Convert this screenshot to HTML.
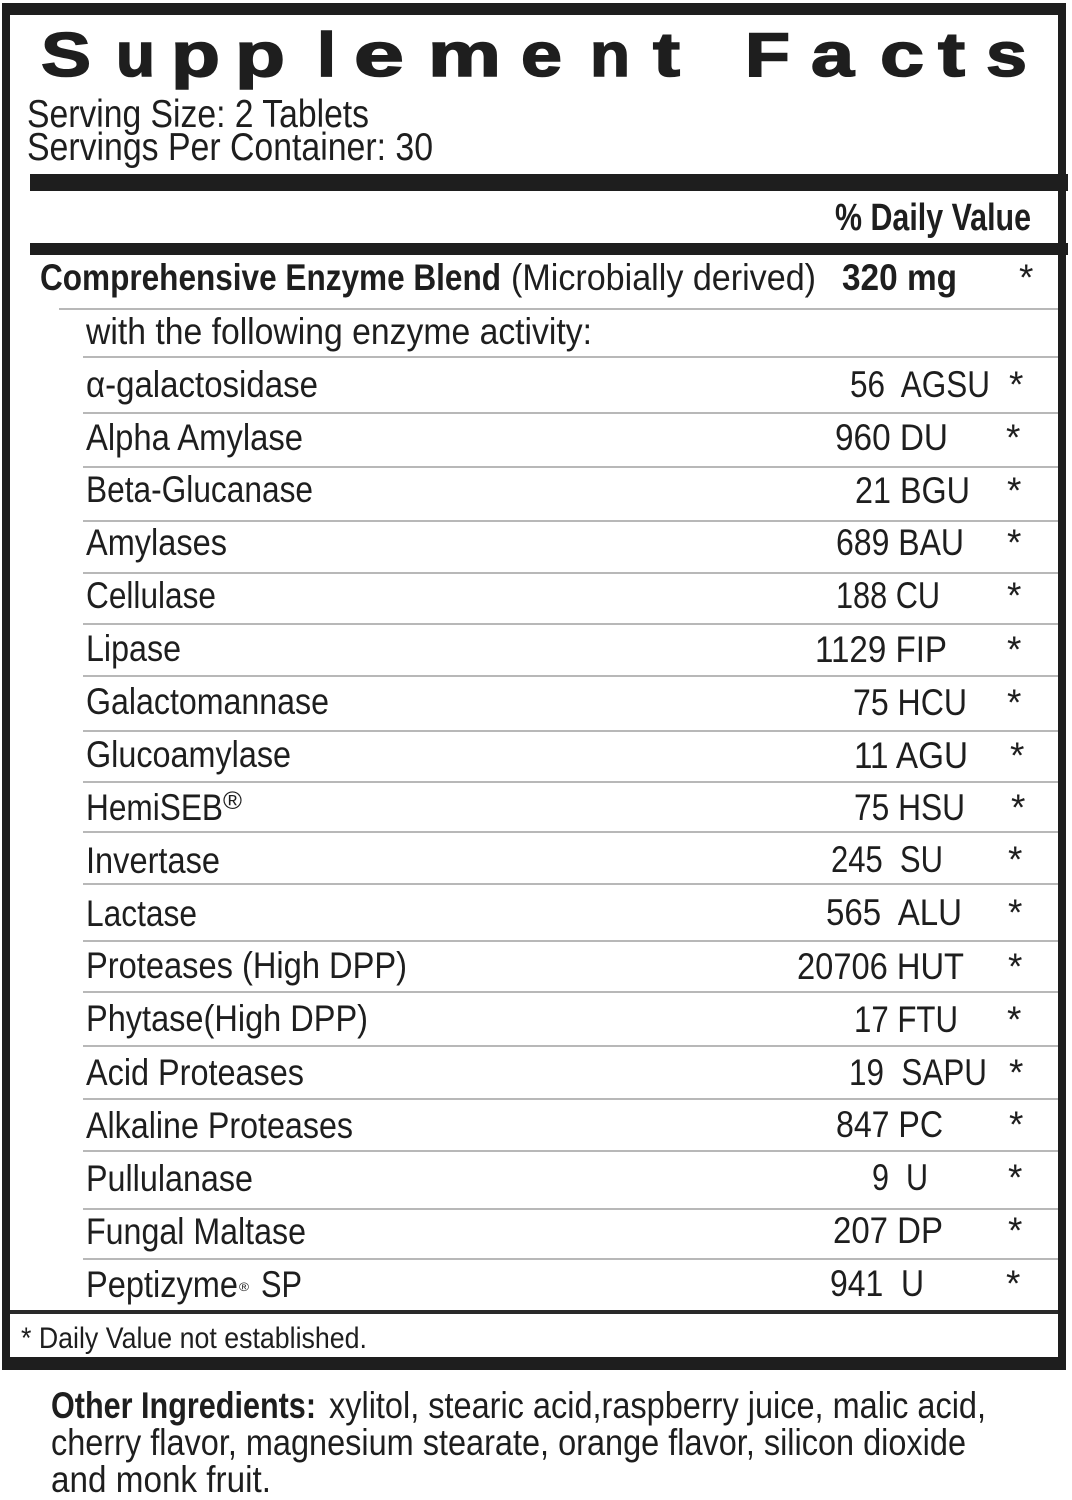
<!DOCTYPE html>
<html>
<head>
<meta charset="utf-8">
<style>
  html,body{margin:0;padding:0;background:#fff;}
  svg{display:block;}
  text{font-family:"Liberation Sans",Arial,sans-serif;fill:#1e1e1e;white-space:pre;}
  .b{font-weight:bold;}
  .r{font-size:37px;}
  .t{font-size:62px;font-weight:bold;stroke:#1e1e1e;stroke-width:1.6px;}
</style>
</head>
<body>
<svg width="1072" height="1500" viewBox="0 0 1072 1500" xmlns="http://www.w3.org/2000/svg">
  <rect x="0" y="0" width="1072" height="1500" fill="#fff"/>

  <!-- frame -->
  <rect x="2" y="3" width="1064" height="12" fill="#1e1e1e"/>
  <rect x="2" y="3" width="8" height="1367" fill="#1e1e1e"/>
  <rect x="1058" y="3" width="8" height="1367" fill="#1e1e1e"/>
  <rect x="2" y="1357" width="1064" height="13" fill="#1e1e1e"/>
  <rect x="30" y="174" width="1038" height="17" fill="#1e1e1e"/>
  <rect x="30" y="243" width="1038" height="12" fill="#1e1e1e"/>
  <rect x="10" y="1310" width="1048" height="4" fill="#2a2a2a"/>

  <!-- thin row lines -->
  <g stroke="#b8b8b8" stroke-width="2">
    <line x1="59" y1="309" x2="1058" y2="309"/>
    <line x1="83" y1="357" x2="1058" y2="357"/>
    <line x1="83" y1="413" x2="1058" y2="413"/>
    <line x1="83" y1="467" x2="1058" y2="467"/>
    <line x1="83" y1="521" x2="1058" y2="521"/>
    <line x1="83" y1="573" x2="1058" y2="573"/>
    <line x1="83" y1="624" x2="1058" y2="624"/>
    <line x1="83" y1="676" x2="1058" y2="676"/>
    <line x1="83" y1="731" x2="1058" y2="731"/>
    <line x1="83" y1="782" x2="1058" y2="782"/>
    <line x1="83" y1="832" x2="1058" y2="832"/>
    <line x1="83" y1="884" x2="1058" y2="884"/>
    <line x1="83" y1="941" x2="1058" y2="941"/>
    <line x1="83" y1="992" x2="1058" y2="992"/>
    <line x1="83" y1="1046" x2="1058" y2="1046"/>
    <line x1="83" y1="1099" x2="1058" y2="1099"/>
    <line x1="83" y1="1151" x2="1058" y2="1151"/>
    <line x1="83" y1="1209" x2="1058" y2="1209"/>
    <line x1="83" y1="1259" x2="1058" y2="1259"/>
  </g>

  <!-- Title -->
  <g class="tt">
    <text class="t" x="41" y="76" textLength="50" lengthAdjust="spacingAndGlyphs">S</text>
    <text class="t" x="116" y="76" textLength="39" lengthAdjust="spacingAndGlyphs">u</text>
    <text class="t" x="171" y="76" textLength="49" lengthAdjust="spacingAndGlyphs">p</text>
    <text class="t" x="235" y="76" textLength="50" lengthAdjust="spacingAndGlyphs">p</text>
    <text class="t" x="317" y="76" textLength="19" lengthAdjust="spacingAndGlyphs">l</text>
    <text class="t" x="354" y="76" textLength="50" lengthAdjust="spacingAndGlyphs">e</text>
    <text class="t" x="428" y="76" textLength="73" lengthAdjust="spacingAndGlyphs">m</text>
    <text class="t" x="521" y="76" textLength="41" lengthAdjust="spacingAndGlyphs">e</text>
    <text class="t" x="590" y="76" textLength="40" lengthAdjust="spacingAndGlyphs">n</text>
    <text class="t" x="653" y="76" textLength="27" lengthAdjust="spacingAndGlyphs">t</text>
    <text class="t" x="745" y="76" textLength="45" lengthAdjust="spacingAndGlyphs">F</text>
    <text class="t" x="811" y="76" textLength="43" lengthAdjust="spacingAndGlyphs">a</text>
    <text class="t" x="880" y="76" textLength="44" lengthAdjust="spacingAndGlyphs">c</text>
    <text class="t" x="938" y="76" textLength="27" lengthAdjust="spacingAndGlyphs">t</text>
    <text class="t" x="986" y="76" textLength="41" lengthAdjust="spacingAndGlyphs">s</text>
  </g>

  <!-- Serving info -->
  <text x="27" y="127" font-size="39" textLength="342" lengthAdjust="spacingAndGlyphs">Serving Size: 2 Tablets</text>
  <text x="27" y="160" font-size="39" textLength="406" lengthAdjust="spacingAndGlyphs">Servings Per Container: 30</text>

  <!-- % Daily Value -->
  <text class="b" x="835" y="230" font-size="38" textLength="196" lengthAdjust="spacingAndGlyphs">% Daily Value</text>

  <!-- Comprehensive row -->
  <text class="b r" x="40" y="290" textLength="461" lengthAdjust="spacingAndGlyphs">Comprehensive Enzyme Blend</text>
  <text class="r" x="511" y="290" textLength="305" lengthAdjust="spacingAndGlyphs">(Microbially derived)</text>
  <text class="b r" x="842" y="290" textLength="115" lengthAdjust="spacingAndGlyphs">320 mg</text>
  <text class="r" x="1019" y="290">*</text>

  <text class="r" x="86" y="344" textLength="506" lengthAdjust="spacingAndGlyphs">with the following enzyme activity:</text>

  <!-- Names -->
  <text class="r" x="86" y="397" textLength="232" lengthAdjust="spacingAndGlyphs">α-galactosidase</text>
  <text class="r" x="86" y="450" textLength="217" lengthAdjust="spacingAndGlyphs">Alpha Amylase</text>
  <text class="r" x="86" y="502" textLength="227" lengthAdjust="spacingAndGlyphs">Beta-Glucanase</text>
  <text class="r" x="86" y="555" textLength="141" lengthAdjust="spacingAndGlyphs">Amylases</text>
  <text class="r" x="86" y="608" textLength="130" lengthAdjust="spacingAndGlyphs">Cellulase</text>
  <text class="r" x="86" y="661" textLength="95" lengthAdjust="spacingAndGlyphs">Lipase</text>
  <text class="r" x="86" y="714" textLength="243" lengthAdjust="spacingAndGlyphs">Galactomannase</text>
  <text class="r" x="86" y="767" textLength="205" lengthAdjust="spacingAndGlyphs">Glucoamylase</text>
  <text class="r" x="86" y="820" textLength="137" lengthAdjust="spacingAndGlyphs">HemiSEB</text>
  <text x="223" y="809" font-size="25" textLength="19" lengthAdjust="spacingAndGlyphs">®</text>
  <text class="r" x="86" y="873" textLength="134" lengthAdjust="spacingAndGlyphs">Invertase</text>
  <text class="r" x="86" y="926" textLength="111" lengthAdjust="spacingAndGlyphs">Lactase</text>
  <text class="r" x="86" y="978" textLength="321" lengthAdjust="spacingAndGlyphs">Proteases (High DPP)</text>
  <text class="r" x="86" y="1031" textLength="282" lengthAdjust="spacingAndGlyphs">Phytase(High DPP)</text>
  <text class="r" x="86" y="1085" textLength="218" lengthAdjust="spacingAndGlyphs">Acid Proteases</text>
  <text class="r" x="86" y="1138" textLength="267" lengthAdjust="spacingAndGlyphs">Alkaline Proteases</text>
  <text class="r" x="86" y="1191" textLength="167" lengthAdjust="spacingAndGlyphs">Pullulanase</text>
  <text class="r" x="86" y="1244" textLength="220" lengthAdjust="spacingAndGlyphs">Fungal Maltase</text>
  <text class="r" x="86" y="1297" textLength="152" lengthAdjust="spacingAndGlyphs">Peptizyme</text>
  <text x="239" y="1291" font-size="12" textLength="10" lengthAdjust="spacingAndGlyphs">®</text>
  <text class="r" x="261" y="1297" textLength="41" lengthAdjust="spacingAndGlyphs">SP</text>

  <!-- Values -->
  <text class="r" x="850" y="397" textLength="140" lengthAdjust="spacingAndGlyphs">56  AGSU</text>
  <text class="r" x="835" y="450" textLength="113" lengthAdjust="spacingAndGlyphs">960 DU</text>
  <text class="r" x="855" y="503" textLength="115" lengthAdjust="spacingAndGlyphs">21 BGU</text>
  <text class="r" x="836" y="555" textLength="128" lengthAdjust="spacingAndGlyphs">689 BAU</text>
  <text class="r" x="836" y="608" textLength="104" lengthAdjust="spacingAndGlyphs">188 CU</text>
  <text class="r" x="815" y="662" textLength="132" lengthAdjust="spacingAndGlyphs">1129 FIP</text>
  <text class="r" x="853" y="715" textLength="114" lengthAdjust="spacingAndGlyphs">75 HCU</text>
  <text class="r" x="854" y="768" textLength="114" lengthAdjust="spacingAndGlyphs">11 AGU</text>
  <text class="r" x="854" y="820" textLength="111" lengthAdjust="spacingAndGlyphs">75 HSU</text>
  <text class="r" x="831" y="872" textLength="112" lengthAdjust="spacingAndGlyphs">245  SU</text>
  <text class="r" x="826" y="925" textLength="136" lengthAdjust="spacingAndGlyphs">565  ALU</text>
  <text class="r" x="797" y="979" textLength="167" lengthAdjust="spacingAndGlyphs">20706 HUT</text>
  <text class="r" x="854" y="1032" textLength="104" lengthAdjust="spacingAndGlyphs">17 FTU</text>
  <text class="r" x="849" y="1085" textLength="138" lengthAdjust="spacingAndGlyphs">19  SAPU</text>
  <text class="r" x="836" y="1137" textLength="107" lengthAdjust="spacingAndGlyphs">847 PC</text>
  <text class="r" x="872" y="1190" textLength="56" lengthAdjust="spacingAndGlyphs">9  U</text>
  <text class="r" x="833" y="1243" textLength="110" lengthAdjust="spacingAndGlyphs">207 DP</text>
  <text class="r" x="830" y="1296" textLength="94" lengthAdjust="spacingAndGlyphs">941  U</text>

  <!-- Asterisks -->
  <g class="r">
    <text class="r" x="1009" y="397">*</text>
    <text class="r" x="1006" y="450">*</text>
    <text class="r" x="1007" y="503">*</text>
    <text class="r" x="1007" y="555">*</text>
    <text class="r" x="1007" y="608">*</text>
    <text class="r" x="1007" y="662">*</text>
    <text class="r" x="1007" y="715">*</text>
    <text class="r" x="1010" y="768">*</text>
    <text class="r" x="1011" y="820">*</text>
    <text class="r" x="1008" y="872">*</text>
    <text class="r" x="1008" y="925">*</text>
    <text class="r" x="1008" y="979">*</text>
    <text class="r" x="1007" y="1032">*</text>
    <text class="r" x="1009" y="1085">*</text>
    <text class="r" x="1009" y="1137">*</text>
    <text class="r" x="1008" y="1190">*</text>
    <text class="r" x="1008" y="1243">*</text>
    <text class="r" x="1006" y="1296">*</text>
  </g>

  <!-- Footnote -->
  <text x="21" y="1348" font-size="30" textLength="346" lengthAdjust="spacingAndGlyphs">* Daily Value not established.</text>

  <!-- Other ingredients -->
  <text class="b r" x="51" y="1418" textLength="265" lengthAdjust="spacingAndGlyphs">Other Ingredients:</text>
  <text class="r" x="329" y="1418" textLength="657" lengthAdjust="spacingAndGlyphs">xylitol, stearic acid,raspberry juice, malic acid,</text>
  <text class="r" x="51" y="1455" textLength="915" lengthAdjust="spacingAndGlyphs">cherry flavor, magnesium stearate, orange flavor, silicon dioxide</text>
  <text class="r" x="51" y="1492" textLength="220" lengthAdjust="spacingAndGlyphs">and monk fruit.</text>
</svg>
</body>
</html>
